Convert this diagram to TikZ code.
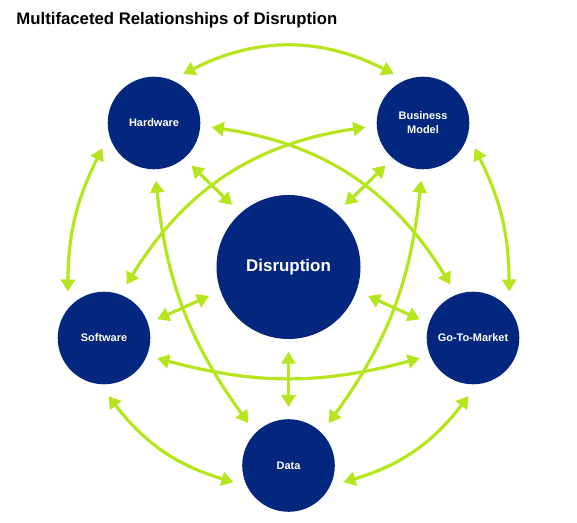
\documentclass[tikz,border=0pt]{standalone}
\usepackage{fontspec}
\setmainfont{Liberation Sans}
\usetikzlibrary{arrows.meta,calc}
\definecolor{navy}{HTML}{03277E}
\definecolor{lime}{HTML}{B5E51D}
\begin{document}
\begin{tikzpicture}[x=1bp,y=1bp,
  ball/.style={circle, fill=navy, inner sep=0pt, minimum size=92.6bp, text=white,
    font=\bfseries\fontsize{11}{14}\selectfont, align=center},
  bigball/.style={ball, minimum size=144bp, font=\bfseries\fontsize{17}{20}\selectfont},
  arr/.style={draw=lime, line width=3.2bp,
    {Triangle[length=12bp,width=14bp]}-{Triangle[length=12bp,width=14bp]}},
  title/.style={anchor=base west, inner sep=0pt, font=\bfseries\fontsize{16.8}{20}\selectfont}]
\useasboundingbox (0,0) rectangle (577,523);
\node[title] (t) at (16.3,498) {Multifaceted Relationships of Disruption};
\node[bigball] (dis) at (288.5,256) {Disruption};
\node[ball] (hw) at (154,400) {Hardware};
\node[ball] (bm) at (423,400) {Business\\Model};
\node[ball] (sw) at (104,185) {Software};
\node[ball] (gtm) at (473,185) {Go-To-Market};
\node[ball] (data) at (288.5,57.5) {Data};
% outer arcs
\draw[arr] ($(hw)+(29.3,49)$) to[bend left=27] ($(bm)+(-29.3,49)$);
\draw[arr] ($(hw)+(-51.7,-25.3)$) to[bend right=13] ($(sw)+(-36.2,46.5)$);
\draw[arr] ($(bm)+(51.7,-25.3)$) to[bend left=13] ($(gtm)+(36.2,46.5)$);
\draw[arr] ($(sw)+(4.5,-58)$) to[bend right=18] ($(data)+(-55,-16.7)$);
\draw[arr] ($(gtm)+(-4.5,-58)$) to[bend left=18] ($(data)+(55,-16.7)$);
% crossing arcs
\draw[arr] ($(hw)+(57.7,-4.3)$) to[bend left=25] ($(gtm)+(-22.5,53.5)$);
\draw[arr] ($(bm)+(-57.7,-4.3)$) to[bend right=25] ($(sw)+(22.5,53.5)$);
\draw[arr] ($(hw)+(2,-57.7)$) to[bend right=15] ($(data)+(-40.2,42.5)$);
\draw[arr] ($(bm)+(-2,-57.7)$) to[bend left=15] ($(data)+(40.2,42.5)$);
\draw[arr] ($(sw)+(53.3,-20.3)$) to[bend right=15] ($(gtm)+(-53.3,-20.3)$);
% straight arrows to the centre
\draw[arr] ($(hw)+(37.5,-42.5)$) -- ($(dis)+(-56.5,62)$);
\draw[arr] ($(bm)+(-37.5,-42.5)$) -- ($(dis)+(56.5,62)$);
\draw[arr] ($(sw)+(53.3,18.7)$) -- ($(dis)+(-79.5,-29)$);
\draw[arr] ($(gtm)+(-53.3,18.7)$) -- ($(dis)+(79.5,-29)$);
\draw[arr] ($(dis)+(0,-84.7)$) -- ($(data)+(0,58.5)$);
\end{tikzpicture}
\end{document}
